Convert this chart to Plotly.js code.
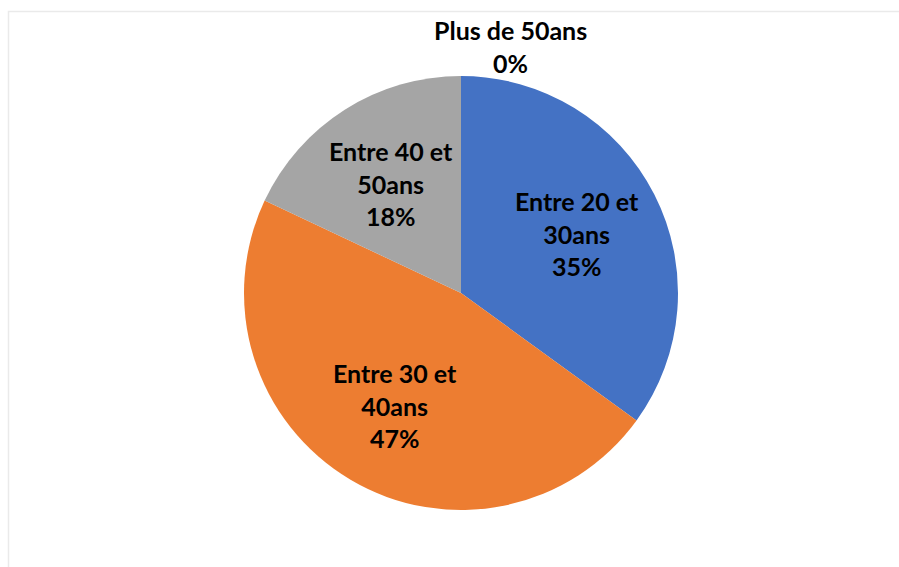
<!DOCTYPE html>
<html>
<head>
<meta charset="utf-8">
<script src="https://cdn.plot.ly/plotly-3.0.1.min.js"></script>
<style>html,body{margin:0;padding:0;background:#fff;}#chart{width:899px;height:567px;}</style>
</head>
<body>
<div id="chart"></div>
<script>
// Data
const categories = ["Entre 20 et<br>30ans", "Entre 30 et<br>40ans", "Entre 40 et<br>50ans", "Plus de 50ans"];
const values = [35, 47, 18, 0];
const colors = ["#4472C4", "#ED7D31", "#A5A5A5", "#5B9BD5"];

const W = 899, H = 567;
const domX = [244 / W, 678 / W];
const domY = [(H - 510) / H, (H - 76) / H];

// Pie geometry in pixels (derived from domain)
const cx = (domX[0] + domX[1]) / 2 * W;
const cy = H - (domY[0] + domY[1]) / 2 * H;
const R = Math.min((domX[1] - domX[0]) * W, (domY[1] - domY[0]) * H) / 2;

const labelFont = {family: "Lato, 'Open Sans', sans-serif", size: 25, color: "#000", weight: 700};

const total = values.reduce((a, b) => a + b, 0);
const annotations = [];
let acc = 0;
values.forEach((v, i) => {
  const pct = Math.round(v / total * 100);
  const a0 = acc / total * 2 * Math.PI;
  acc += v;
  const a1 = acc / total * 2 * Math.PI;
  const mid = (a0 + a1) / 2;
  const text = categories[i] + "<br>" + pct + "%";
  if (v > 0) {
    const r = 0.6 * R;
    const px = cx + r * Math.sin(mid);
    const py = cy - r * Math.cos(mid);
    annotations.push({
      x: px / W, y: (H - py) / H, xref: "paper", yref: "paper",
      text: text, showarrow: false, xanchor: "center", yanchor: "middle",
      font: labelFont, align: "center"
    });
  } else {
    const px = cx + R * Math.sin(mid);
    const py = cy - R * Math.cos(mid);
    annotations.push({
      x: px / W, y: (H - py) / H, xref: "paper", yref: "paper",
      text: text, showarrow: false, xanchor: "center", yanchor: "bottom",
      xshift: 50, yshift: -4,
      font: labelFont, align: "center"
    });
  }
});

const trace = {
  type: "pie",
  labels: categories,
  values: values,
  marker: {colors: colors, line: {width: 0}},
  sort: false,
  direction: "clockwise",
  rotation: 0,
  textinfo: "none",
  hoverinfo: "label+percent",
  domain: {x: domX, y: domY},
  showlegend: false
};

const layout = {
  width: W, height: H,
  margin: {l: 0, r: 0, t: 0, b: 0},
  paper_bgcolor: "#fff",
  showlegend: false,
  annotations: annotations,
  shapes: [{
    type: "rect", xref: "paper", yref: "paper",
    x0: 8.5 / W, x1: 1.05, y0: -0.05, y1: (H - 11.5) / H,
    line: {color: "#eaeaea", width: 1.5}, fillcolor: "rgba(0,0,0,0)"
  }]
};

Plotly.newPlot("chart", [trace], layout, {displayModeBar: false, staticPlot: true});
</script>
</body>
</html>
